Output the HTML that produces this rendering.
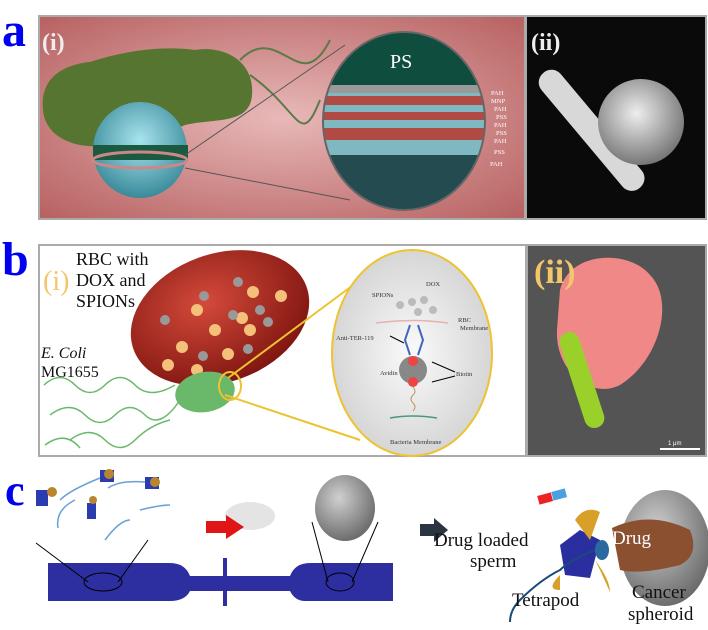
<!DOCTYPE html>
<html><head><style>
html,body{margin:0;padding:0;background:#fff;width:708px;height:630px;overflow:hidden}
svg{display:block}
text{font-family:"Liberation Serif",serif}
.s{font-family:"Liberation Sans",sans-serif}
</style></head><body>
<svg width="708" height="630" viewBox="0 0 708 630">
<defs>
<radialGradient id="pink" cx="0.5" cy="0.5" r="0.7"><stop offset="0" stop-color="#e8b8b8"/><stop offset="1" stop-color="#b86262"/></radialGradient>
<radialGradient id="rbc" cx="0.45" cy="0.35" r="0.7"><stop offset="0" stop-color="#d44a3a"/><stop offset="1" stop-color="#7a120e"/></radialGradient>
<radialGradient id="gray" cx="0.5" cy="0.5" r="0.6"><stop offset="0" stop-color="#fafafa"/><stop offset="1" stop-color="#cfcfcf"/></radialGradient>
<radialGradient id="sph" cx="0.4" cy="0.35" r="0.7"><stop offset="0" stop-color="#d0d0d0"/><stop offset="1" stop-color="#666"/></radialGradient>
<radialGradient id="semsph" cx="0.45" cy="0.4" r="0.6"><stop offset="0" stop-color="#eee"/><stop offset="1" stop-color="#777"/></radialGradient>
<radialGradient id="cyan" cx="0.5" cy="0.4" r="0.6"><stop offset="0" stop-color="#a8e4ee"/><stop offset="1" stop-color="#3a8a9a"/></radialGradient>
</defs>

<!-- a -->
<text x="2" y="46" font-size="48" font-weight="bold" fill="#0000ee">a</text>
<rect x="38" y="15" width="669" height="205" fill="#aaa"/>
<rect x="40" y="17" width="484" height="201" fill="url(#pink)"/>
<rect x="527" y="17" width="178" height="201" fill="#0a0a0a"/>
<path d="M43 110 C40 80 60 65 90 62 C120 52 160 45 195 50 C225 45 255 62 252 95 C250 125 215 118 185 125 C150 140 110 150 80 145 C55 140 44 125 43 110Z" fill="#557530"/>
<path d="M240 60 C280 20 300 100 330 40 M250 75 C300 110 300 150 320 100" stroke="#5b7a4a" stroke-width="2" fill="none"/>
<ellipse cx="140" cy="150" rx="47" ry="48" fill="url(#cyan)"/>
<rect x="93" y="145" width="95" height="15" fill="#1a5a40"/>
<ellipse cx="140" cy="160" rx="47" ry="8" fill="none" stroke="#c88" stroke-width="3"/>
<line x1="185" y1="155" x2="345" y2="45" stroke="#555"/>
<line x1="185" y1="168" x2="350" y2="200" stroke="#555"/>
<clipPath id="cc"><ellipse cx="404" cy="121" rx="81" ry="89"/></clipPath>
<g clip-path="url(#cc)">
<rect x="320" y="30" width="170" height="185" fill="#0f4d3e"/>
<rect x="320" y="85" width="170" height="70" fill="#7fb8c0"/>
<rect x="320" y="96" width="170" height="9" fill="#b04a42"/>
<rect x="320" y="112" width="170" height="8" fill="#b04a42"/>
<rect x="320" y="128" width="170" height="12" fill="#b04a42"/>
<rect x="320" y="85" width="170" height="8" fill="#9a9a9a"/>
<rect x="320" y="155" width="170" height="60" fill="#244b50"/>
</g>
<ellipse cx="404" cy="121" rx="81" ry="89" fill="none" stroke="#666" stroke-width="2"/>
<text x="390" y="68" font-size="20" fill="#fff">PS</text>
<g class="s" font-size="6.5" fill="#fff">
<text x="491" y="95">PAH</text><text x="491" y="103">MNP</text><text x="494" y="111">PAH</text><text x="496" y="119">PSS</text><text x="494" y="127">PAH</text><text x="496" y="135">PSS</text><text x="494" y="143">PAH</text><text x="494" y="154">PSS</text><text x="490" y="166">PAH</text></g>
<text x="42" y="50" font-size="24" font-weight="bold" fill="#eee">(i)</text>
<g transform="rotate(50 592 130)"><rect x="517" y="118" width="150" height="25" rx="12" fill="#d8d8d8"/></g>
<circle cx="641" cy="122" r="43" fill="url(#semsph)"/>
<text x="531" y="50" font-size="24" font-weight="bold" fill="#eee">(ii)</text>

<!-- b -->
<text x="2" y="275" font-size="48" font-weight="bold" fill="#0000ee">b</text>
<rect x="38" y="244" width="669" height="213" fill="#aaa"/>
<rect x="40" y="246" width="485" height="209" fill="#fff"/>
<rect x="528" y="246" width="177" height="209" fill="#545454"/>
<ellipse cx="220" cy="318" rx="92" ry="64" transform="rotate(-20 220 318)" fill="url(#rbc)"/>
<g fill="#f4c07a"><circle cx="253" cy="292" r="6"/><circle cx="197" cy="310" r="6"/><circle cx="242" cy="318" r="6"/><circle cx="281" cy="296" r="6"/><circle cx="182" cy="347" r="6"/><circle cx="215" cy="330" r="6"/><circle cx="250" cy="330" r="6"/><circle cx="168" cy="365" r="6"/><circle cx="228" cy="354" r="6"/><circle cx="197" cy="370" r="6"/></g>
<g fill="#999"><circle cx="238" cy="282" r="5"/><circle cx="204" cy="296" r="5"/><circle cx="260" cy="310" r="5"/><circle cx="165" cy="320" r="5"/><circle cx="233" cy="315" r="5"/><circle cx="268" cy="322" r="5"/><circle cx="248" cy="349" r="5"/><circle cx="203" cy="356" r="5"/></g>
<ellipse cx="205" cy="392" rx="30" ry="20" fill="#6ab86a" transform="rotate(-10 205 392)"/>
<path d="M44 385 Q60 370 75 385 T105 385 T135 385 T175 385 M50 415 Q70 400 85 415 T115 415 T145 415 T180 400 M70 440 Q90 425 105 440 T135 440 T170 420 M45 445 Q65 430 80 448" stroke="#6ab86a" stroke-width="1.5" fill="none"/>
<line x1="228" y1="378" x2="360" y2="280" stroke="#eec230" stroke-width="2"/>
<line x1="225" y1="395" x2="360" y2="440" stroke="#eec230" stroke-width="2"/>
<ellipse cx="230" cy="386" rx="11" ry="14" fill="none" stroke="#eec230" stroke-width="2"/>
<ellipse cx="412" cy="353" rx="80" ry="103" fill="url(#gray)" stroke="#eec230" stroke-width="2"/>
<path d="M376 323 Q412 318 448 323" stroke="#e8b0b0" stroke-width="1.5" fill="none"/>
<path d="M410 325 L405 340 L410 355 M418 325 L423 340 L418 355" stroke="#4466bb" stroke-width="2" fill="none"/>
<circle cx="413" cy="370" r="14" fill="#888"/>
<circle cx="413" cy="361" r="5" fill="#e44"/><circle cx="413" cy="382" r="5" fill="#e44"/>
<path d="M413 387 q4 5 0 8 q-4 4 0 8 q4 4 0 8" stroke="#b96" fill="none"/>
<path d="M390 418 Q412 414 437 418" stroke="#4a9a7a" stroke-width="1.5" fill="none"/>
<g class="s" font-size="6.5" fill="#333">
<text x="372" y="297">SPIONs</text><text x="426" y="286">DOX</text><text x="458" y="322">RBC</text><text x="460" y="330">Membrane</text>
<text x="336" y="340">Anti-TER-119</text><text x="380" y="375">Avidin</text><text x="456" y="376">Biotin</text><text x="390" y="444">Bacteria Membrane</text></g>
<g fill="#bbb"><circle cx="400" cy="305" r="4"/><circle cx="412" cy="302" r="4"/><circle cx="424" cy="300" r="4"/><circle cx="433" cy="310" r="4"/><circle cx="418" cy="312" r="4"/></g>
<line x1="390" y1="336" x2="404" y2="343" stroke="#000"/><line x1="455" y1="372" x2="432" y2="362" stroke="#000"/><line x1="455" y1="376" x2="432" y2="382" stroke="#000"/>
<text x="43" y="290" font-size="28" fill="#f3c66a">(i)</text>
<text x="76" y="265" font-size="18" fill="#111">RBC with</text>
<text x="76" y="286" font-size="18" fill="#111">DOX and</text>
<text x="76" y="307" font-size="18" fill="#111">SPIONs</text>
<text x="41" y="358" font-size="16" font-style="italic" fill="#111">E. Coli</text>
<text x="41" y="377" font-size="16" fill="#111">MG1655</text>
<path d="M560 290 C570 250 630 250 650 275 C675 300 660 360 620 385 C590 400 555 370 557 330Z" fill="#f08888"/>
<g transform="rotate(-18 582 380)"><rect x="572" y="330" width="20" height="100" rx="10" fill="#9ad02a"/></g>
<text x="534" y="283" font-size="34" font-weight="bold" fill="#f3c66a">(ii)</text>
<line x1="660" y1="449" x2="700" y2="449" stroke="#fff" stroke-width="2"/>
<text x="668" y="445" class="s" font-size="6" fill="#fff">1 μm</text>

<!-- c -->
<text x="5" y="505" font-size="44" font-weight="bold" fill="#0000ee">c</text>
<path d="M48 563 L170 563 Q185 563 190 576 L290 576 Q295 563 310 563 L393 563 L393 601 L305 601 Q295 601 290 591 L190 591 Q185 601 170 601 L48 601Z" fill="#2d2fa0"/>
<rect x="223" y="558" width="4" height="48" fill="#2d2fa0"/>
<ellipse cx="103" cy="582" rx="19" ry="9" fill="none" stroke="#000"/>
<ellipse cx="340" cy="582" rx="14" ry="9" fill="none" stroke="#000"/>
<line x1="36" y1="543" x2="88" y2="582" stroke="#000"/><line x1="148" y1="540" x2="118" y2="582" stroke="#000"/>
<line x1="312" y1="522" x2="328" y2="582" stroke="#000"/><line x1="378" y1="522" x2="352" y2="582" stroke="#000"/>
<ellipse cx="345" cy="508" rx="30" ry="33" fill="url(#sph)"/>
<ellipse cx="250" cy="516" rx="25" ry="14" fill="#ddd" opacity="0.8"/>
<path d="M206 521 L226 521 L226 515 L244 527 L226 539 L226 533 L206 533Z" fill="#e01515"/>
<path d="M420 524 L434 524 L434 518 L448 530 L434 542 L434 536 L420 536Z" fill="#2b3440"/>
<g fill="#2a3cb0"><rect x="36" y="490" width="12" height="16"/><rect x="100" y="470" width="14" height="12"/><rect x="145" y="477" width="14" height="12"/><rect x="87" y="503" width="9" height="16"/></g>
<g fill="#b8862e"><circle cx="52" cy="492" r="5"/><circle cx="109" cy="474" r="5"/><circle cx="155" cy="482" r="5"/><circle cx="93" cy="500" r="4"/></g>
<path d="M60 500 Q70 490 100 478 M108 488 Q120 480 145 482 M58 528 Q55 510 75 500 M105 540 Q120 520 130 520 M140 510 Q160 505 170 505" stroke="#6aa0d8" stroke-width="1.5" fill="none"/>
<ellipse cx="665" cy="548" rx="45" ry="58" fill="url(#sph)"/>
<path d="M612 528 Q650 510 690 530 Q700 555 680 565 Q640 575 620 570Z" fill="#8a5030"/>
<path d="M560 545 L580 530 L600 540 L590 578 L565 575Z" fill="#2a2fa0"/>
<path d="M575 520 Q585 505 600 512 L590 540Z M595 560 Q610 580 610 592 L600 570Z M560 575 Q545 590 560 590Z" fill="#d8a028"/>
<path d="M595 550 Q570 560 560 570 Q540 580 520 600 Q510 610 510 622" stroke="#1a4a78" stroke-width="2" fill="none"/>
<ellipse cx="602" cy="550" rx="7" ry="10" fill="#2a6aa0"/>
<rect x="538" y="494" width="14" height="9" fill="#e22" transform="rotate(-15 545 498)"/>
<rect x="552" y="490" width="14" height="9" fill="#4aa0e0" transform="rotate(-15 559 494)"/>
<text x="434" y="546" font-size="19" fill="#111">Drug loaded</text>
<text x="470" y="567" font-size="19" fill="#111">sperm</text>
<text x="512" y="606" font-size="19" fill="#111">Tetrapod</text>
<text x="612" y="544" font-size="19" fill="#fff">Drug</text>
<text x="632" y="598" font-size="19" fill="#111">Cancer</text>
<text x="628" y="620" font-size="19" fill="#111">spheroid</text>
</svg>
</body></html>
